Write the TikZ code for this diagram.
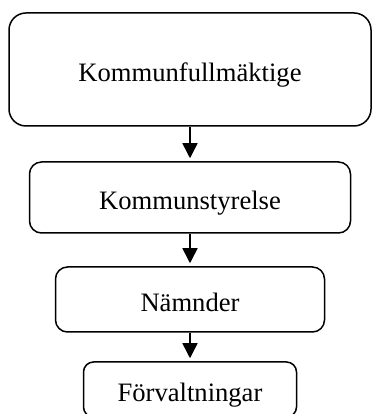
\documentclass[tikz,border=0pt]{standalone}
\usepackage{fontspec}
\setmainfont{Liberation Serif}
\usetikzlibrary{arrows.meta}

\tikzset{
  every box/.style={draw, line width=1.5pt, inner sep=0pt,
    font=\fontsize{26.6}{32}\selectfont, text height=23.4pt, text depth=0pt},
}

\begin{document}
\begin{tikzpicture}[x=1pt, y=1pt, >={Triangle[width=15pt,length=15pt]}]
\useasboundingbox (0,0) rectangle (372,414);

\node [every box, rounded corners=17pt, minimum width=362pt, minimum height=113pt] (fullm) at (190,344.5) {Kommunfullmäktige};
\node [every box, rounded corners=12pt, minimum width=321pt, minimum height=71pt] (styr) at (190,216.5) {Kommunstyrelse};
\node [every box, rounded corners=12pt, minimum width=269pt, minimum height=65pt] (namnd) at (190,114.5) {Nämnder};
\node [every box, rounded corners=10pt, minimum width=213pt, minimum height=55pt] (forv) at (190,24.5) {Förvaltningar};

\foreach \a/\b in {fullm/styr, styr/namnd, namnd/forv}
  \draw [->, line width=1.5pt, shorten >=3pt] (\a.south) -- (\b.north);
\end{tikzpicture}
\end{document}
